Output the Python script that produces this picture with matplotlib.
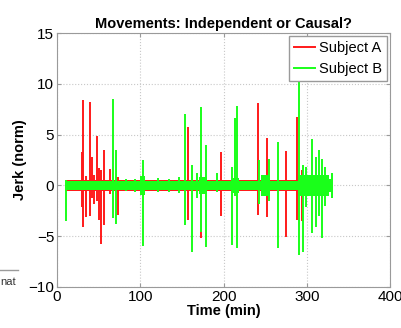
import matplotlib
matplotlib.use("Agg")
import matplotlib.pyplot as plt
from matplotlib.lines import Line2D

plt.rcParams["font.family"] = ["Liberation Sans", "DejaVu Sans"]

# spikes: time (min), peak up, peak down
a_t = [29.6, 31.6, 34.4, 39.6, 41.6, 44.0, 47.7, 50.8, 52.9, 56.5, 63.7, 73.5,
       157.0, 173.0, 197.0, 242.0, 252.0, 275.0, 288.7, 294.0]
a_hi = [3.3, 8.4, 0.9, 8.2, 2.8, 1.0, 4.9, 1.7, 1.5, 3.5, 1.6, 0.8,
        5.8, 1.0, 3.3, 8.1, 4.7, 3.4, 6.7, 1.5]
a_lo = [-2.1, -4.1, -3.1, -3.0, -1.2, -1.8, -1.5, -3.4, -5.8, -3.9, -0.8, -2.9,
        -3.4, -5.2, -3.0, -2.9, -3.1, -5.1, -3.4, -3.5]

b_t = [10.8, 66.9, 70.9, 83.0, 94.0, 103.7, 121.7, 135.0, 147.0, 153.8, 161.8,
       167.8, 173.0, 178.6, 192.0, 210.6, 213.8, 216.6, 243.0, 255.0, 265.0,
       290.7, 295.0, 299.0, 306.7, 311.0, 314.7, 318.0, 322.0]
b_hi = [0.5, 8.5, 3.5, 0.6, 0.6, 2.5, 0.7, 0.6, 0.8, 7.0, 2.0,
        1.2, 7.7, 4.0, 1.2, 1.8, 6.6, 7.8, 2.5, 2.6, 4.3,
        10.5, 2.0, 1.8, 4.6, 2.8, 3.5, 2.6, 1.8]
b_lo = [-3.5, -3.2, -3.8, -0.5, -0.6, -6.0, -0.6, -0.6, -0.7, -3.9, -6.6,
        -1.2, -4.6, -6.1, -0.6, -5.9, -1.0, -6.2, -1.8, -1.5, -6.2,
        -6.8, -6.6, -2.1, -4.7, -4.1, -3.0, -5.2, -2.0]

# background noise band: segment start times and half-width
a_band_t = [9, 289]
a_band_w = [0.55, 0.55]
b_band_t = [9, 100, 106, 170, 180, 212, 219, 245, 256, 289, 327, 329, 332]
b_band_w = [0.42, 0.9, 0.42, 0.8, 0.42, 0.7, 0.42, 1.0, 0.45, 1.0, 0.6, 1.2, 1.2]

red = "#ff1a1a"
green = "#1aff1a"
fs = 10.5

fig = plt.figure(figsize=(4.02, 3.28), dpi=100)
ax = fig.add_axes([0.142, 0.125, 0.828, 0.774])

ax.fill_between(a_band_t, [-w for w in a_band_w], a_band_w, step="post",
                color=red, lw=0, zorder=2)
ax.vlines(a_t, a_lo, a_hi, color=red, lw=1.4, zorder=2)
ax.fill_between(b_band_t, [-w for w in b_band_w], b_band_w, step="post",
                color=green, lw=0, zorder=3)
ax.vlines(b_t, b_lo, b_hi, color=green, lw=1.4, zorder=3)

ax.set_xlim(0, 400)
ax.set_ylim(-10, 15)
ax.set_xticks([0, 100, 200, 300, 400])
ax.set_yticks([-10, -5, 0, 5, 10, 15])
ax.grid(True, ls=":", color="#c8c8c8", lw=0.8)
ax.set_axisbelow(True)
for s in ax.spines.values():
    s.set_color("#9a9a9a")
ax.tick_params(direction="in", top=True, right=True, color="#9a9a9a",
               labelsize=11, length=3, pad=2)

ax.set_title("Movements: Independent or Causal?", fontsize=fs,
             fontweight="bold", pad=4)
ax.set_xlabel("Time (min)", fontsize=fs, fontweight="bold", labelpad=0)
ax.set_ylabel("Jerk (norm)", fontsize=fs, fontweight="bold", labelpad=1)

handles = [Line2D([], [], color=red, lw=1.4), Line2D([], [], color=green, lw=1.4)]
leg = ax.legend(handles, ["Subject A", "Subject B"], loc="upper right",
                fontsize=fs, fancybox=False, framealpha=1, edgecolor="#9a9a9a",
                handlelength=1.4, handletextpad=0.3, borderpad=0.35,
                labelspacing=0.45, borderaxespad=0.2)
leg.set_zorder(10)

# edge of a neighbouring panel
fig.add_artist(Line2D([0, 0.045], [0.177, 0.177], color="#9a9a9a", lw=1))
fig.text(0.0, 0.14, "nat", fontsize=8, color="#333333", va="center")

fig.savefig("out.png", dpi=100)
